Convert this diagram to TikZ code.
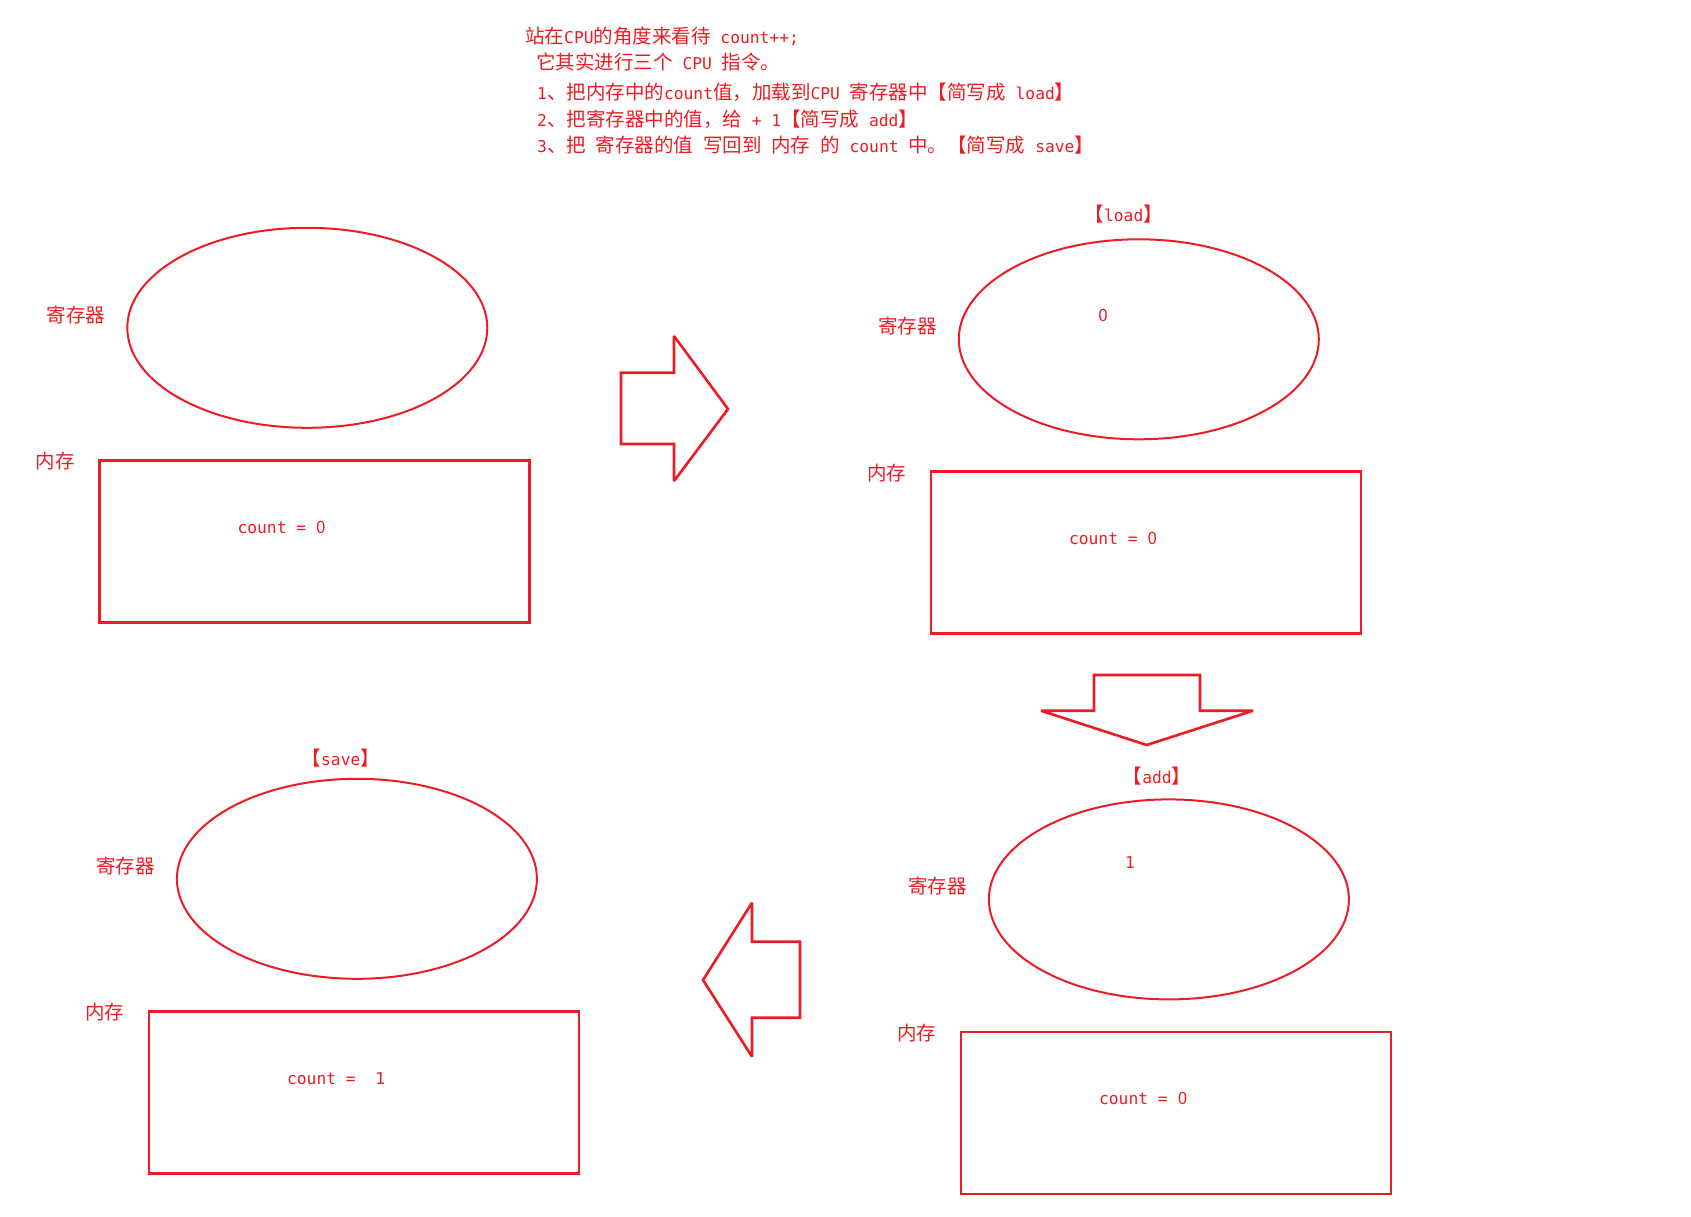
\documentclass[tikz,border=0pt]{standalone}
\usepackage{fontspec}
\setmainfont{Noto Sans CJK SC}
\newfontfamily\monofnt{DejaVu Sans Mono}
\usetikzlibrary{shapes.geometric}
\definecolor{pred}{RGB}{237,28,36}
\newcommand\lat[1]{{\fontsize{16.3pt}{20pt}\monofnt #1}}
\newcommand\zr{\makebox[9.8pt]{\fontsize{17pt}{20pt}\selectfont 0}}
\tikzset{
  lbl/.style={text=pred, inner sep=0pt, font=\fontsize{19.5pt}{24pt}\selectfont,
    text height=16.4pt, text depth=2pt},
  regbox/.style={draw=pred, line width=2pt, ellipse, inner sep=0pt,
    minimum width=360pt, minimum height=200pt},
  membox/.style={draw=pred, line width=2.8pt, rectangle, inner sep=0pt,
    minimum width=430pt, minimum height=162pt},
  bigarrow/.style={draw=pred, line width=2.6pt, line join=miter, miter limit=2},
}
\begin{document}
\begin{tikzpicture}[x=1pt,y=-1pt]
\useasboundingbox (0,0) rectangle (1691,1217);

% top explanation text
\node[lbl, anchor=west] (t1) at (525,36.7) {站在\lat{CPU}的角度来看待\lat{ count++;}};
\node[lbl, anchor=west] (t2) at (536,62.5) {它其实进行三个\lat{ CPU }指令。};
\node[lbl, anchor=west] (t3) at (537,92.7) {\lat{1}、把内存中的\lat{count}值，加载到\lat{CPU }寄存器中【简写成\lat{ load}】};
\node[lbl, anchor=west] (t4) at (537,119.7) {\lat{2}、把寄存器中的值，给\lat{ + 1}【简写成\lat{ add}】};
\node[lbl, anchor=west] (t5) at (537,145.6) {\lat{3}、把\lat{ }寄存器的值\lat{ }写回到\lat{ }内存\lat{ }的\lat{ count }中。【简写成\lat{ save}】};

% panel 1 (initial)
\begin{scope}
  \node[regbox] (r1) at (307.3,327.8) {};
  \node[membox] (m1) at (314.4,541.3) {};
  \node[lbl, anchor=west] (rl1) at (46.4,315) {寄存器};
  \node[lbl, anchor=west] (ml1) at (35.6,461.5) {内存};
  \node[lbl, anchor=west] (c1) at (237.3,525.8) {\lat{count = }\zr};
\end{scope}

% panel 2 (load)
\begin{scope}[shift={(831.5,11.5)}]
  \node[regbox] (r2) at (307.3,327.8) {};
  \node[membox] (m2) at (314.4,541.3) {};
  \node[lbl, anchor=west] (rl2) at (46.4,315) {寄存器};
  \node[lbl, anchor=west] (ml2) at (35.6,461.5) {内存};
  \node[lbl, anchor=west] (c2) at (237.3,525.8) {\lat{count = }\zr};
\end{scope}
\node[lbl] (v2) at (1103,314) {\zr};
\node[lbl] (h2) at (1123.7,214.6) {【\lat{load}】};

% panel 3 (add)
\begin{scope}[shift={(861.6,571.6)}]
  \node[regbox] (r3) at (307.3,327.8) {};
  \node[membox] (m3) at (314.4,541.3) {};
  \node[lbl, anchor=west] (rl3) at (46.4,315) {寄存器};
  \node[lbl, anchor=west] (ml3) at (35.6,461.5) {内存};
  \node[lbl, anchor=west] (c3) at (237.3,525.8) {\lat{count = }\zr};
\end{scope}
\node[lbl] (v3) at (1130,861.7) {\lat{1}};
\node[lbl] (h3) at (1157,776.5) {【\lat{add}】};

% panel 4 (save)
\begin{scope}[shift={(49.6,551)}]
  \node[regbox] (r4) at (307.3,327.8) {};
  \node[membox] (m4) at (314.4,541.3) {};
  \node[lbl, anchor=west] (rl4) at (46.4,315) {寄存器};
  \node[lbl, anchor=west] (ml4) at (35.6,461.5) {内存};
  \node[lbl, anchor=west] (c4) at (237.3,525.8) {\lat{count =~~1}};
\end{scope}
\node[lbl] (h4) at (340.8,758) {【\lat{save}】};

% block arrows
\draw[bigarrow] (621,372.7) -- (674,372.7) -- (674,336) -- (728,409) -- (674,481) -- (674,444) -- (621,444) -- cycle;
\draw[bigarrow] (1094,675) -- (1200,675) -- (1200,710.7) -- (1253,710.7) -- (1146.7,745) -- (1041,710.7) -- (1094,710.7) -- cycle;
\draw[bigarrow] (703,980) -- (752,902.7) -- (752,941.7) -- (800,941.7) -- (800,1017.7) -- (752,1017.7) -- (752,1056.7) -- cycle;
\end{tikzpicture}
\end{document}
